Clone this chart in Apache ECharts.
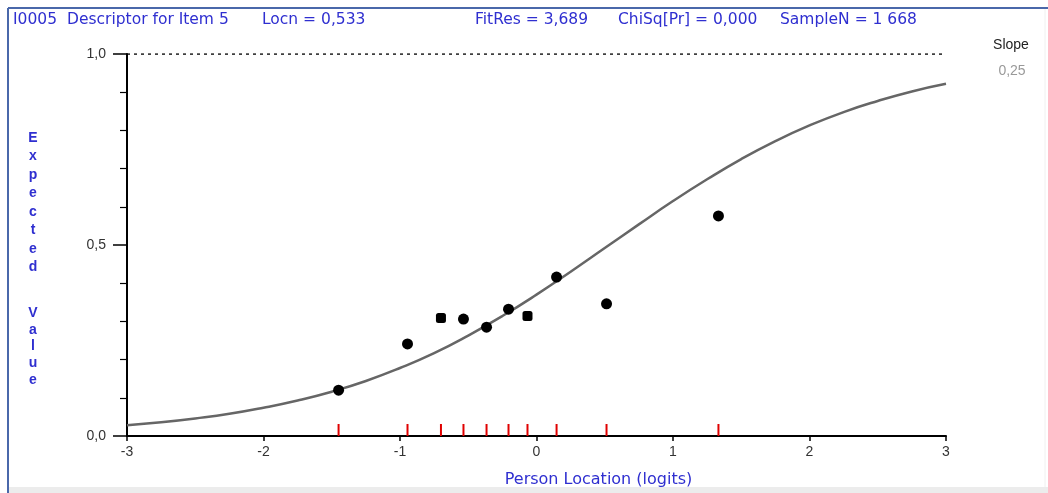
<!DOCTYPE html>
<html>
<head>
<meta charset="utf-8">
<script src="https://cdn.jsdelivr.net/npm/echarts@6/dist/echarts.min.js"></script>
<style>
html,body{margin:0;padding:0;background:#fff;}
#chart{width:1048px;height:493px;}
</style>
</head>
<body>
<div id="chart"></div>
<script>
// Class interval observed means (person location, observed mean score)
const classX = [-1.45, -0.945, -0.70, -0.535, -0.366, -0.205, -0.066, 0.147, 0.513, 1.333];
const classY = [0.120, 0.241, 0.309, 0.306, 0.285, 0.332, 0.314, 0.416, 0.346, 0.576];
const classShape = ['circle','circle','square','circle','circle','circle','square','circle','circle','circle'];
// Expected value curve
const curveX = [-3,-2.75,-2.5,-2.25,-2,-1.75,-1.5,-1.25,-1,-0.75,-0.5,-0.25,0,0.25,0.5,0.75,1,1.25,1.5,1.75,2,2.25,2.5,2.75,3];
const curveY = [0.028,0.036,0.046,0.058,0.074,0.093,0.116,0.144,0.178,0.217,0.263,0.314,0.370,0.430,0.492,0.554,0.615,0.672,0.725,0.772,0.813,0.848,0.877,0.902,0.922];
const xTicks = [-3,-2,-1,0,1,2,3];
const yTicks = [0, 0.5, 1];
const headers = ['I0005', 'Descriptor for Item 5', 'Locn = 0,533', 'FitRes = 3,689', 'ChiSq[Pr] = 0,000', 'SampleN = 1 668'];
const slopeLabel = 'Slope';
const slopeValue = '0,25';
const xTitle = 'Person Location (logits)';
const yTitleWords = ['Expected', 'Value'];

const blue = '#2f2fd0';
const font = 'Liberation Sans, Arial, sans-serif';
const wide = 'DejaVu Sans, sans-serif';
const fmt = v => v.toFixed(1).replace('.', ',');

const chart = echarts.init(document.getElementById('chart'), null, {renderer:'canvas'});

const headerPos = [13, 67, 262, 475, 618, 780];
const graphics = [
  {type:'line', shape:{x1:8,y1:8,x2:1048,y2:8}, style:{stroke:'#4a68aa', lineWidth:2}, silent:true},
  {type:'line', shape:{x1:8,y1:8,x2:8,y2:493}, style:{stroke:'#4a68aa', lineWidth:2}, silent:true},
  {type:'rect', shape:{x:9,y:487,width:1039,height:6}, style:{fill:'#ececec'}, silent:true},
  {type:'line', shape:{x1:1045,y1:9,x2:1045,y2:487}, style:{stroke:'#f0f0f0', lineWidth:1}, silent:true}
];
headers.forEach((t,i)=>{
  graphics.push({type:'text', x:headerPos[i], y:20, style:{text:t, fill:blue, font:'15.5px '+wide, textVerticalAlign:'middle'}});
});
graphics.push({type:'text', x:1011, y:45, style:{text:slopeLabel, fill:'#222', font:'14px '+font, textAlign:'center', textVerticalAlign:'middle'}});
graphics.push({type:'text', x:1012, y:71, style:{text:slopeValue, fill:'#999', font:'14px '+font, textAlign:'center', textVerticalAlign:'middle'}});
graphics.push({type:'text', x:33, y:128.5, style:{text:yTitleWords[0].split('').join('\n'), fill:blue, font:'bold 14px '+font, textAlign:'center', lineHeight:18.5}});
graphics.push({type:'text', x:33, y:304.5, style:{text:yTitleWords[1].split('').join('\n'), fill:blue, font:'bold 14px '+font, textAlign:'center', lineHeight:16.8}});

const classData = classX.map((x,i)=>({value:[x,classY[i]], symbol: classShape[i]==='square' ? 'roundRect' : 'circle', symbolSize: classShape[i]==='square' ? 10 : 11}));
const tickData = classX.map(x=>[x,0]);

chart.setOption({
  animation:false,
  backgroundColor:'#fff',
  grid:{left:127, right:102, top:54, bottom:57, containLabel:false},
  xAxis:{
    type:'value', min:-3, max:3, interval:1,
    axisLine:{show:true, onZero:false, lineStyle:{color:'#000', width:2}},
    axisTick:{show:true, length:5, lineStyle:{color:'#000', width:1.5}},
    axisLabel:{color:'#333', fontSize:14, fontFamily:font, margin:9, formatter:v=>xTicks.includes(v)?String(v):''},
    splitLine:{show:false},
    name:xTitle, nameLocation:'middle', nameGap:36,
    nameTextStyle:{color:blue, fontSize:16, fontFamily:wide, padding:[0,0,0,124]}
  },
  yAxis:{
    type:'value', min:0, max:1, interval:0.5,
    axisLine:{show:true, onZero:false, lineStyle:{color:'#000', width:2}},
    axisTick:{show:true, length:14, lineStyle:{color:'#000', width:1.5}},
    minorTick:{show:true, splitNumber:5, length:7, lineStyle:{color:'#000', width:1.2}},
    axisLabel:{color:'#333', fontSize:14, fontFamily:font, margin:21, formatter:v=>yTicks.includes(v)?fmt(v):''},
    splitLine:{show:false}
  },
  graphic: graphics,
  series:[
    {type:'line', data:[[-3,1],[3,1]], symbol:'none', lineStyle:{color:'#000', width:1.5, type:[3,4]}, silent:true, z:1},
    {type:'line', data:curveX.map((x,i)=>[x,curveY[i]]), symbol:'none', smooth:true, lineStyle:{color:'#666', width:2.5}, z:2},
    {type:'scatter', data:tickData, symbol:'rect', symbolSize:[2,12], symbolOffset:[0,-6], itemStyle:{color:'#e00000', opacity:1}, z:3},
    {type:'scatter', data:classData, itemStyle:{color:'#000', opacity:1}, z:4}
  ]
});
</script>
</body>
</html>
